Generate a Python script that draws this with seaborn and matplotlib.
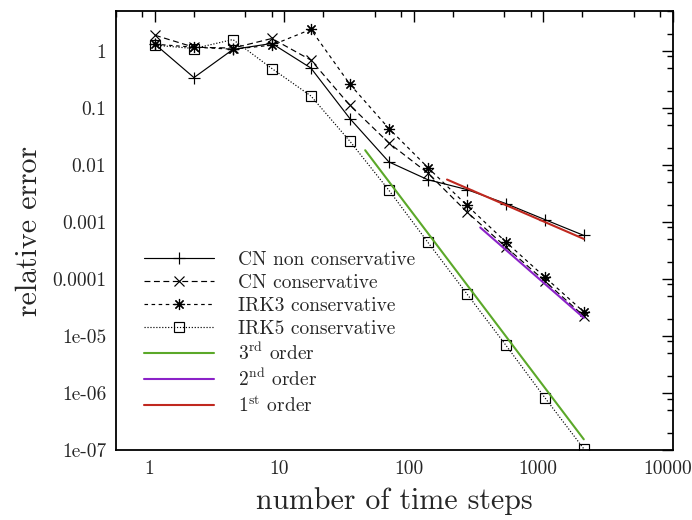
import numpy as np
import pandas as pd
import matplotlib
matplotlib.use("Agg")
import matplotlib.pyplot as plt
import matplotlib.transforms as mtransforms
import seaborn as sns
from matplotlib.ticker import FixedLocator, FuncFormatter, NullFormatter

# ---------------- data ----------------
steps = [1, 2, 4, 8, 16, 32, 64, 128, 256, 512, 1024, 2048]
cn_nonconservative = [1.31, 0.34, 1.06, 1.35, 0.50, 0.065, 0.0113, 0.0055,
                      0.0037, 0.0021, 0.0011, 0.00058]
cn_conservative = [1.88, 1.16, 1.12, 1.65, 0.69, 0.111, 0.0243, 0.0072,
                   0.0015, 0.000364, 9.2e-5, 2.24e-5]
irk3_conservative = [1.31, 1.16, 1.07, 1.26, 2.38, 0.26, 0.0435, 0.009,
                     0.00196, 0.000446, 1.08e-4, 2.64e-5]
irk5_conservative = [1.26, 1.10, 1.58, 0.49, 0.162, 0.026, 0.0036, 0.00044,
                     5.5e-5, 6.9e-6, 8.3e-7, 1.05e-7]

order3_x = [42, 2048]
order3_y = [0.0181, 1.54e-7]
order2_x = [325, 2048]
order2_y = [7.98e-4, 2.08e-5]
order1_x = [180, 2048]
order1_y = [5.54e-3, 5.04e-4]

x_major = [1, 10, 100, 1000, 10000]
x_major_labels = ["1", "10", "100", "1000", "10000"]
y_major = [1, 0.1, 0.01, 0.001, 0.0001, 1e-5, 1e-6, 1e-7]
y_major_labels = ["1", "0.1", "0.01", "0.001", "0.0001", "1e-05", "1e-06", "1e-07"]

# ---------------- style ----------------
sns.set_style("white")
plt.rcParams["font.family"] = ["cmr10", "DejaVu Serif"]
plt.rcParams["mathtext.fontset"] = "cm"
plt.rcParams["axes.unicode_minus"] = False

fig, ax = plt.subplots(figsize=(6.92, 5.2), dpi=100)
fig.subplots_adjust(left=0.1676, right=0.9725, top=0.9788, bottom=0.1346)

lw = 0.85
series = [
    (cn_nonconservative, "CN non conservative", "-", "+", 8),
    (cn_conservative, "CN conservative", (0, (5, 3)), "x", 7),
    (irk3_conservative, "IRK3 conservative", (0, (3, 3)), (8, 2, 0), 8),
    (irk5_conservative, "IRK5 conservative", (0, (1, 1.5)), "s", 7.5),
]
for vals, lab, ls, mk, ms in series:
    sns.lineplot(x=steps, y=vals, ax=ax, color="black", linestyle=ls,
                 linewidth=lw, marker=mk, markersize=ms, markeredgewidth=0.85,
                 markerfacecolor="none", markeredgecolor="black",
                 sort=False, errorbar=None, label=lab)

refs = [
    (order3_x, order3_y, "3$^{\\rm rd}$ order", "#5ba829"),
    (order2_x, order2_y, "2$^{\\rm nd}$ order", "#8b22c8"),
    (order1_x, order1_y, "1$^{\\rm st}$ order", "#c0281f"),
]
for xs, ys, lab, col in refs:
    sns.lineplot(x=xs, y=ys, ax=ax, color=col, linewidth=1.5, sort=False,
                 errorbar=None, label=lab)

ax.set_xscale("log")
ax.set_yscale("log")
ax.set_xlim(0.5, 10000)
ax.set_ylim(1e-7, 5)

# ticks
ax.xaxis.set_major_locator(FixedLocator(x_major))
ax.xaxis.set_major_formatter(FuncFormatter(lambda v, p: x_major_labels[x_major.index(v)] if v in x_major else ""))
xminor = [d * 10.0 ** k for k in range(-1, 5) for d in (2, 5, 8)]
ax.xaxis.set_minor_locator(FixedLocator(xminor))
ax.xaxis.set_minor_formatter(NullFormatter())

ax.yaxis.set_major_locator(FixedLocator(y_major))
ylab_map = dict(zip(y_major, y_major_labels))
ax.yaxis.set_major_formatter(FuncFormatter(lambda v, p: min(ylab_map.items(), key=lambda kv: abs(np.log10(kv[0]) - np.log10(v)))[1]))
yminor = [d * 10.0 ** k for k in range(-8, 1) for d in (2, 5, 8)]
ax.yaxis.set_minor_locator(FixedLocator(yminor))
ax.yaxis.set_minor_formatter(NullFormatter())

ax.tick_params(which="both", direction="in", top=True, right=True, color="black")
ax.tick_params(which="major", length=8, width=1.0, labelsize=14, pad=7)
ax.tick_params(which="minor", length=4.5, width=1.0)
for s in ax.spines.values():
    s.set_linewidth(1.3)
    s.set_color("black")

# x tick labels sit slightly left of their ticks, as in the reference
shift = mtransforms.ScaledTranslation(-0.055, 0, fig.dpi_scale_trans)
for lbl in ax.get_xticklabels():
    lbl.set_transform(lbl.get_transform() + shift)

ax.set_xlabel("number of time steps", fontsize=21.5, labelpad=7)
ax.set_ylabel("relative error", fontsize=21.5, labelpad=6.5)

leg = ax.legend(loc="lower left", bbox_to_anchor=(0.05, 0.078), frameon=False,
                fontsize=14, handlelength=3.6, handletextpad=1.25,
                labelspacing=0.26, borderpad=0, borderaxespad=0, numpoints=1)

fig.savefig("out.png", dpi=100)
